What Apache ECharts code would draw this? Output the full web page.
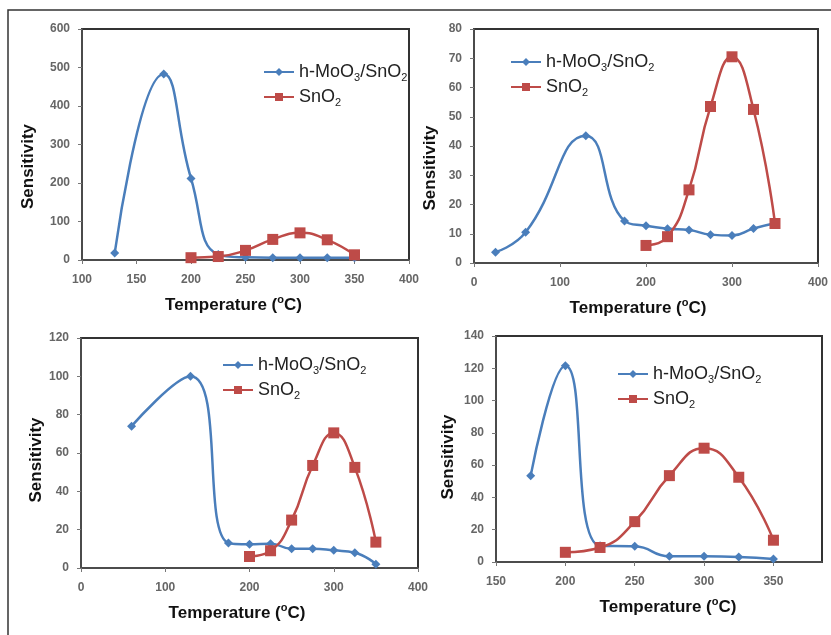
<!DOCTYPE html>
<html>
<head>
<meta charset="utf-8">
<script src="https://cdn.jsdelivr.net/npm/echarts@6/dist/echarts.min.js"></script>
<style>
html, body { margin: 0; padding: 0; background: #fff; }
#main { width: 831px; height: 635px; }
</style>
</head>
<body>
<div id="main"></div>
<script>
// ---------------- data ----------------
// SnO2 curve (same in all four panels)
const snTemp = [200, 225, 250, 275, 300, 325, 350];
const snVal = [6, 9, 25, 53.5, 70.5, 52.5, 13.5];

// h-MoO3/SnO2, panel a (top left)
const aTemp = [130, 175, 200, 225, 250, 275, 300, 325, 350];
const aVal = [18, 483, 212, 14, 7, 6, 6, 6, 6];

// panel b (top right)
const bTemp = [25, 60, 130, 175, 200, 225, 250, 275, 300, 325, 350];
const bVal = [3.7, 10.5, 43.5, 14.4, 12.7, 11.7, 11.3, 9.7, 9.4, 11.8, 13.6];

// panel c (bottom left)
const cTemp = [60, 130, 175, 200, 225, 250, 275, 300, 325, 350];
const cVal = [74, 100, 13, 12.4, 12.7, 10, 10, 9.2, 8, 2];

// panel d (bottom right)
const dTemp = [175, 200, 225, 250, 275, 300, 325, 350];
const dVal = [53.5, 121.6, 10, 9.7, 3.5, 3.5, 3.1, 1.9];

const seriesNames = ['h-MoO3/SnO2', 'SnO2'];

// ---------------- helpers ----------------
function pairs(xs, ys) {
    return xs.map((x, i) => [x, ys[i]]);
}

const BLUE = '#4a7ebb';
const RED = '#be4b48';
const FONT = '"Liberation Sans", Arial, sans-serif';

// legend text with subscripts
function legendText(name) {
    if (name === 'SnO2') return '{a|SnO}{s|2}';
    return '{a|h-MoO}{s|3}{a|/SnO}{s|2}';
}
const legendRich = {
    a: { fontSize: 18, color: '#222', fontFamily: FONT },
    s: { fontSize: 11, color: '#222', fontFamily: FONT, padding: [11, 0, 0, 0] }
};

function makeLegend(left, top) {
    return {
        data: seriesNames,
        orient: 'vertical',
        left: left,
        top: top,
        padding: 0,
        itemWidth: 30,
        itemHeight: 10,
        itemGap: 5,
        formatter: legendText,
        textStyle: { rich: legendRich }
    };
}

function makeX(idx, min, max, interval, shift) {
    return {
        type: 'value',
        gridIndex: idx,
        min: min,
        max: max,
        interval: interval,
        splitLine: { show: false },
        axisLine: { lineStyle: { color: '#555', width: 1.5 } },
        axisTick: { show: true, length: 4, lineStyle: { color: '#777' } },
        axisLabel: {
            margin: 14,
            color: '#666',
            fontSize: 12,
            fontWeight: 'bold',
            fontFamily: FONT,
            showMaxLabel: max % interval === 0
        },
        name: '{t|Temperature (}{o|o}{t|C)}',
        nameLocation: 'middle',
        nameGap: 34,
        nameTextStyle: {
            padding: shift,
            rich: {
                t: { fontSize: 17, fontWeight: 'bold', color: '#111', fontFamily: FONT },
                o: { fontSize: 11, fontWeight: 'bold', color: '#111', fontFamily: FONT, padding: [0, 0, 12, 0] }
            }
        }
    };
}

function makeY(idx, max, interval, gap, shift) {
    return {
        type: 'value',
        gridIndex: idx,
        min: 0,
        max: max,
        interval: interval,
        splitLine: { show: false },
        axisLine: { show: true, lineStyle: { color: '#555', width: 1.5 } },
        axisTick: { show: true, length: 4, lineStyle: { color: '#777' } },
        axisLabel: { margin: 12, color: '#666', fontSize: 12, fontWeight: 'bold', fontFamily: FONT },
        name: 'Sensitivity',
        nameLocation: 'middle',
        nameGap: gap,
        nameTextStyle: {
            fontSize: 17,
            fontWeight: 'bold',
            color: '#111',
            fontFamily: FONT,
            padding: [0, shift, 0, 0]
        }
    };
}

function blueLine(idx, xs, ys) {
    return {
        name: seriesNames[0],
        type: 'line',
        xAxisIndex: idx,
        yAxisIndex: idx,
        data: pairs(xs, ys),
        smooth: 0.5,
        symbol: 'diamond',
        symbolSize: 9,
        lineStyle: { color: BLUE, width: 2.5 },
        itemStyle: { color: BLUE },
        z: 2
    };
}

function redLine(idx) {
    return {
        name: seriesNames[1],
        type: 'line',
        xAxisIndex: idx,
        yAxisIndex: idx,
        data: pairs(snTemp, snVal),
        smooth: 0.5,
        symbol: 'rect',
        symbolSize: 11,
        lineStyle: { color: RED, width: 2.5 },
        itemStyle: { color: RED },
        z: 3
    };
}

var chart = echarts.init(document.getElementById('main'));

var gridBox = { show: true, borderColor: '#333', borderWidth: 2, backgroundColor: 'transparent' };

var option = {
    backgroundColor: '#fff',
    animation: false,
    grid: [
        Object.assign({ left: 82, top: 29, width: 327, height: 231 }, gridBox),
        Object.assign({ left: 474, top: 29, width: 345, height: 234 }, gridBox),
        Object.assign({ left: 81, top: 338, width: 337, height: 230 }, gridBox),
        Object.assign({ left: 496, top: 336, width: 326, height: 226 }, gridBox)
    ],
    xAxis: [
        makeX(0, 100, 400, 50, [0, 24, 0, 0]),
        makeX(1, 0, 400, 100, [0, 16, 0, 0]),
        makeX(2, 0, 400, 100, [0, 25, 0, 0]),
        makeX(3, 150, 385, 50, [0, 0, 0, 18])
    ],
    yAxis: [
        makeY(0, 600, 100, 45, 44),
        makeY(1, 80, 10, 35, 44),
        makeY(2, 120, 20, 34, 14),
        makeY(3, 140, 20, 39, 16)
    ],
    legend: [
        makeLegend(263, 63),
        makeLegend(510, 53),
        makeLegend(222, 356),
        makeLegend(617, 365)
    ],
    series: [
        blueLine(0, aTemp, aVal), redLine(0),
        blueLine(1, bTemp, bVal), redLine(1),
        blueLine(2, cTemp, cVal), redLine(2),
        blueLine(3, dTemp, dVal), redLine(3)
    ],
    graphic: [
        {
            type: 'polyline',
            shape: { points: [[8, 635], [8, 10], [831, 10]] },
            style: { stroke: '#333', lineWidth: 1.5, fill: null },
            silent: true
        }
    ]
};

chart.setOption(option);
</script>
</body>
</html>
